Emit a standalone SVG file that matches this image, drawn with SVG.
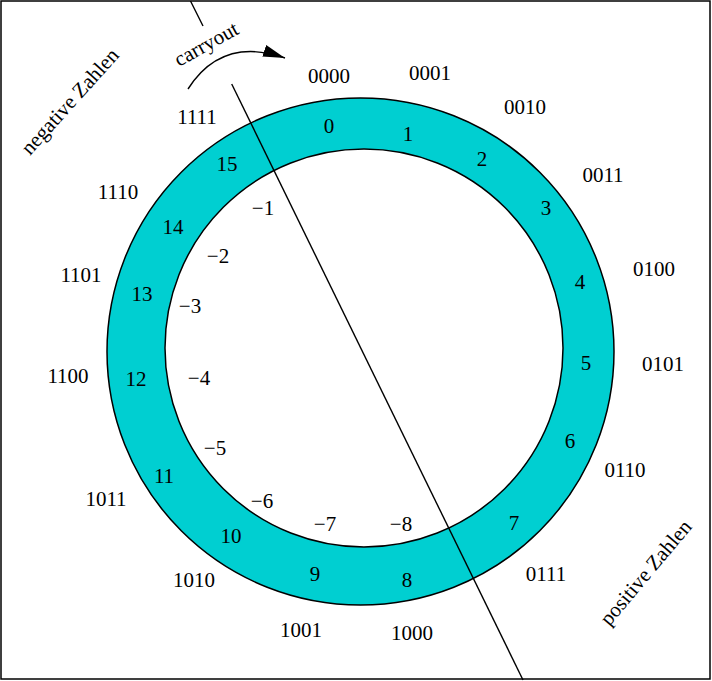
<svg xmlns="http://www.w3.org/2000/svg" width="712" height="681" viewBox="0 0 712 681">
<style>
text{font-family:"Liberation Serif","Times New Roman",serif;font-size:21px;fill:#000;text-anchor:middle}
.ln{fill:none;stroke:#000;stroke-width:1.4}
</style>
<defs>
<marker id="ah" markerUnits="userSpaceOnUse" markerWidth="24" markerHeight="14" viewBox="0 0 24 14" refX="22" refY="7" orient="auto">
<path d="M0,1 L22,7 L0,13 Z" fill="#000"/>
</marker>
</defs>
<rect x="1" y="1" width="709" height="678" fill="#fff" stroke="#000" stroke-width="1.5"/>
<g id="ring">
<path d="M107,351.5 a253.5,253.5 0 1,0 507,0 a253.5,253.5 0 1,0 -507,0 Z M165,348 a199,199 0 1,0 398,0 a199,199 0 1,0 -398,0 Z" fill="#00cfd1" fill-rule="evenodd" stroke="#000" stroke-width="1.5"/>
</g>
<g id="connectors">
<line class="ln" x1="190.5" y1="1" x2="203" y2="26"/>
<line class="ln" x1="231.7" y1="84" x2="523" y2="680"/>
<path class="ln" d="M188,89 Q222,36 285,58" stroke-width="1.6" marker-end="url(#ah)"/>
</g>
<g id="carryout"><text transform="translate(179,67) rotate(-29)" style="text-anchor:start">carryout</text></g>
<g id="negative"><text transform="translate(75,106) rotate(-48)">negative Zahlen</text></g>
<g id="positive"><text transform="translate(651,577) rotate(-50)">positive Zahlen</text></g>
<g id="slot-0"><text x="329" y="83">0000</text><text x="329" y="133">0</text></g>
<g id="slot-1"><text x="430" y="80">0001</text><text x="408" y="141">1</text></g>
<g id="slot-2"><text x="525" y="114">0010</text><text x="482" y="166">2</text></g>
<g id="slot-3"><text x="603" y="182">0011</text><text x="546" y="215">3</text></g>
<g id="slot-4"><text x="654" y="276">0100</text><text x="580" y="289">4</text></g>
<g id="slot-5"><text x="663" y="371">0101</text><text x="586" y="370">5</text></g>
<g id="slot-6"><text x="625" y="477">0110</text><text x="570" y="448">6</text></g>
<g id="slot-7"><text x="546" y="581">0111</text><text x="514" y="530">7</text></g>
<g id="slot-8"><text x="412" y="640">1000</text><text x="407" y="587">8</text><text x="401" y="531">−8</text></g>
<g id="slot-9"><text x="301" y="637">1001</text><text x="315" y="581">9</text><text x="325" y="531">−7</text></g>
<g id="slot-10"><text x="194" y="587">1010</text><text x="231" y="543">10</text><text x="262" y="508">−6</text></g>
<g id="slot-11"><text x="106" y="506">1011</text><text x="164" y="483">11</text><text x="215" y="455">−5</text></g>
<g id="slot-12"><text x="68" y="383">1100</text><text x="136" y="386">12</text><text x="199" y="385">−4</text></g>
<g id="slot-13"><text x="81" y="282">1101</text><text x="142" y="301">13</text><text x="190" y="313">−3</text></g>
<g id="slot-14"><text x="118" y="199">1110</text><text x="173" y="234">14</text><text x="218" y="263">−2</text></g>
<g id="slot-15"><text x="197" y="124">1111</text><text x="227" y="171">15</text><text x="263" y="215">−1</text></g>
</svg>
